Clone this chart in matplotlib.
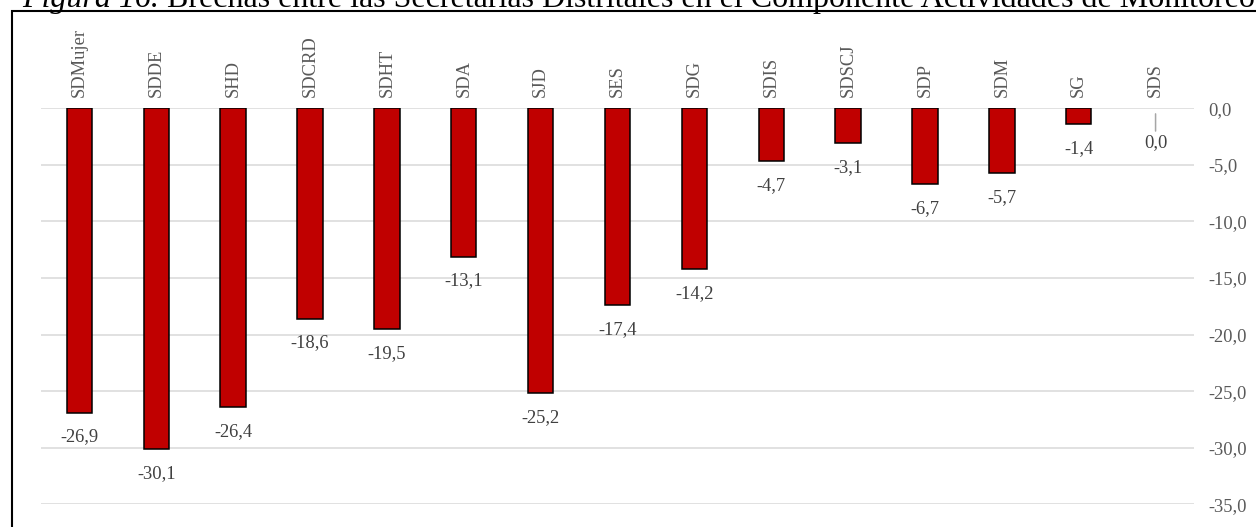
import numpy as np
import matplotlib
matplotlib.use("Agg")
import matplotlib.pyplot as plt
from matplotlib.patches import Rectangle
from matplotlib.ticker import FuncFormatter

plt.rcParams['font.family'] = ['Liberation Serif', 'DejaVu Serif']

secretarias = ["SDMujer", "SDDE", "SHD", "SDCRD", "SDHT", "SDA", "SJD", "SES",
               "SDG", "SDIS", "SDSCJ", "SDP", "SDM", "SG", "SDS"]
brechas = [-26.9, -30.1, -26.4, -18.6, -19.5, -13.1, -25.2, -17.4,
           -14.2, -4.7, -3.1, -6.7, -5.7, -1.4, 0.0]
y_ticks = [0, -5, -10, -15, -20, -25, -30, -35]

W, H = 1256, 527
fig = plt.figure(figsize=(W / 100, H / 100), dpi=100)
ax = fig.add_axes([41 / W, 22.7 / H, 1153 / W, 396 / H])

x = np.arange(len(secretarias))
bordes = ["black" if v != 0 else "none" for v in brechas]
ax.bar(x, brechas, width=0.33, color="#C00000", edgecolor=bordes, linewidth=1.1, zorder=3)

ax.set_xlim(-0.5, len(secretarias) - 0.5)
ax.set_ylim(-35, 0)
ax.set_yticks(y_ticks)
ax.yaxis.tick_right()
ax.yaxis.set_major_formatter(FuncFormatter(lambda v, p: f"{v:.1f}".replace(".", ",")))
ax.tick_params(axis="y", length=0, pad=10, labelsize=13.3, labelcolor="#595959")
ax.set_xticks([])
for lbl in ax.get_yticklabels():
    lbl.set_horizontalalignment("left")
ax.grid(axis="y", color="#D9D9D9", linewidth=1.1, zorder=0)
for s in ax.spines.values():
    s.set_visible(False)

# nombres arriba de la linea de cero
for i, nombre in enumerate(secretarias):
    ax.annotate(nombre, (i, 0), xytext=(0, 8), textcoords="offset points",
                rotation=90, ha="center", va="bottom", fontsize=13.3,
                color="#595959", annotation_clip=False)

# etiquetas de datos
for i, v in enumerate(brechas):
    txt = f"{v:.1f}".replace(".", ",")
    if v == 0:
        ax.annotate(txt, (i, v), xytext=(0, -24.5), textcoords="offset points",
                    ha="center", va="center", fontsize=13.3, color="#404040",
                    arrowprops=dict(arrowstyle="-", color="#A6A6A6", lw=1.1,
                                    shrinkA=0, shrinkB=4))
    else:
        ax.annotate(txt, (i, v), xytext=(0, -17.5), textcoords="offset points",
                    ha="center", va="center", fontsize=13.3, color="#404040")

# marco de la figura (recortado a la derecha y abajo)
fig.add_artist(Rectangle((12 / W, -0.2), 1.1, 1.2 - 11 / H, transform=fig.transFigure,
                         fill=False, edgecolor="black", linewidth=1.5, clip_on=False))

# titulo
t1 = fig.text(22 / W, 1 - 7 / H, "Figura 16.", fontsize=23, style="italic",
              va="baseline", ha="left")
fig.canvas.draw()
bb = t1.get_window_extent(renderer=fig.canvas.get_renderer())
fig.text(bb.x1 / W, 1 - 7 / H,
         " Brechas entre las Secretarías Distritales en el Componente Actividades de Monitoreo",
         fontsize=23, va="baseline", ha="left")

fig.savefig("out.png", dpi=100)
